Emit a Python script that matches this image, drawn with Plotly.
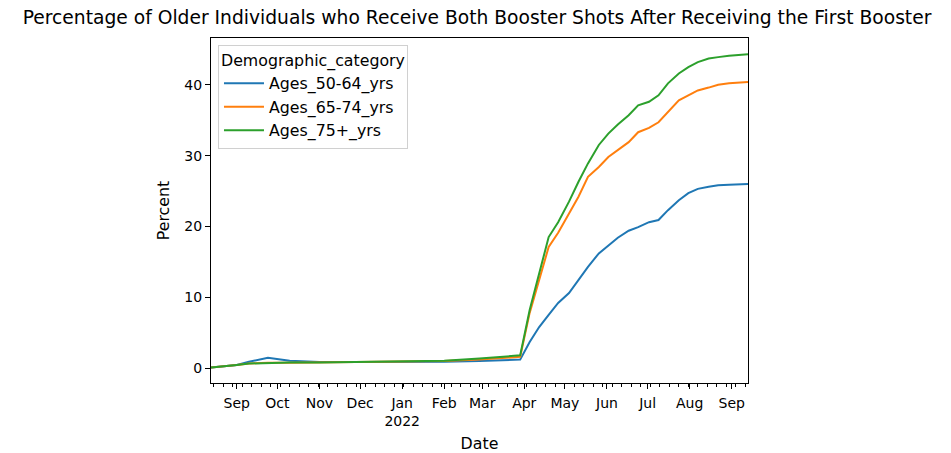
import plotly.graph_objects as go

dates = ['2021-08-13', '2021-08-20', '2021-09-01', '2021-09-10', '2021-09-24',
         '2021-10-10', '2021-11-01', '2021-12-01', '2021-12-30', '2022-02-01',
         '2022-02-27', '2022-03-29', '2022-04-05', '2022-04-12', '2022-04-19',
         '2022-04-26', '2022-05-04', '2022-05-11', '2022-05-18', '2022-05-26',
         '2022-06-02', '2022-06-09', '2022-06-17', '2022-06-24', '2022-07-02',
         '2022-07-09', '2022-07-16', '2022-07-24', '2022-07-31', '2022-08-07',
         '2022-08-15', '2022-08-22', '2022-08-30', '2022-09-13']

ages_50_64 = [0.1, 0.2, 0.45, 0.9, 1.45, 1.05, 0.85, 0.85, 0.85, 0.9,
              1.0, 1.2, 3.7, 5.8, 7.5, 9.2, 10.6, 12.5, 14.3, 16.2,
              17.3, 18.4, 19.4, 19.9, 20.6, 20.9, 22.3, 23.7, 24.7, 25.3,
              25.6, 25.8, 25.9, 26.0]
ages_65_74 = [0.1, 0.2, 0.45, 0.65, 0.75, 0.75, 0.78, 0.82, 0.88, 1.0,
              1.2, 1.6, 7.8, 12.5, 17.1, 19.1, 21.9, 24.2, 27.0, 28.4,
              29.8, 30.8, 31.9, 33.3, 33.9, 34.7, 36.1, 37.8, 38.5, 39.2,
              39.6, 40.0, 40.2, 40.4]
ages_75_plus = [0.1, 0.2, 0.45, 0.65, 0.75, 0.78, 0.8, 0.85, 0.92, 1.05,
                1.35, 1.8, 8.2, 13.2, 18.5, 20.6, 23.5, 26.3, 28.9, 31.5,
                33.1, 34.4, 35.7, 37.1, 37.6, 38.5, 40.2, 41.6, 42.5, 43.2,
                43.7, 43.9, 44.1, 44.3]

series = [('Ages_50-64_yrs', ages_50_64, '#1f77b4'),
          ('Ages_65-74_yrs', ages_65_74, '#ff7f0e'),
          ('Ages_75+_yrs', ages_75_plus, '#2ca02c')]

month_ticks = ['2021-09-01', '2021-10-01', '2021-11-01', '2021-12-01', '2022-01-01',
               '2022-02-01', '2022-03-01', '2022-04-01', '2022-05-01', '2022-06-01',
               '2022-07-01', '2022-08-01', '2022-09-01']
month_labels = ['Sep', 'Oct', 'Nov', 'Dec', 'Jan<br>2022', 'Feb', 'Mar', 'Apr',
                'May', 'Jun', 'Jul', 'Aug', 'Sep']

fig = go.Figure()
for name, vals, color in series:
    fig.add_trace(go.Scatter(x=dates, y=vals, mode='lines', name=name,
                             line=dict(color=color, width=2)))

tick_font = dict(family='DejaVu Sans', size=14, color='black')
label_font = dict(family='DejaVu Sans', size=15.8, color='black')

# page body has an 8px margin, so the figure is a bit smaller than the window
fig.update_layout(
    width=943, height=445,
    margin=dict(l=203, r=203, t=30, b=70),
    paper_bgcolor='white', plot_bgcolor='white',
    font=tick_font,
    title=dict(text='Percentage of Older Individuals who Receive Both Booster Shots After Receiving the First Booster',
               x=0.4974, xanchor='center', y=0.978, yanchor='middle',
               font=dict(family='DejaVu Sans', size=18.7, color='black')),
    legend=dict(title=dict(text='Demographic_category', font=label_font),
                x=0.013, y=0.98, xanchor='left', yanchor='top',
                bgcolor='white', bordercolor='#d0d0d0', borderwidth=1,
                font=label_font, itemwidth=40, tracegroupgap=0),
    showlegend=True,
)

fig.update_xaxes(
    automargin=False,
    range=['2021-08-13', '2022-09-13'],
    tickmode='array', tickvals=month_ticks, ticktext=month_labels,
    ticks='outside', ticklen=5, tickwidth=1, tickcolor='black',
    ticklabelstandoff=2,
    minor=dict(ticks='outside', ticklen=3, tickcolor='black',
               dtick=7 * 86400000, tick0='2021-08-15'),
    showline=True, linecolor='black', linewidth=1, mirror=True,
    showgrid=False, zeroline=False,
    title=dict(text='Date', standoff=9, font=label_font),
)

fig.update_yaxes(
    automargin=False,
    range=[-2.1, 46.6],
    tickvals=[0, 10, 20, 30, 40],
    ticks='outside', ticklen=5, tickwidth=1, tickcolor='black',
    showline=True, linecolor='black', linewidth=1, mirror=True,
    showgrid=False, zeroline=False,
    title=dict(text='Percent', standoff=10, font=label_font),
)

fig.write_html('out.html')
